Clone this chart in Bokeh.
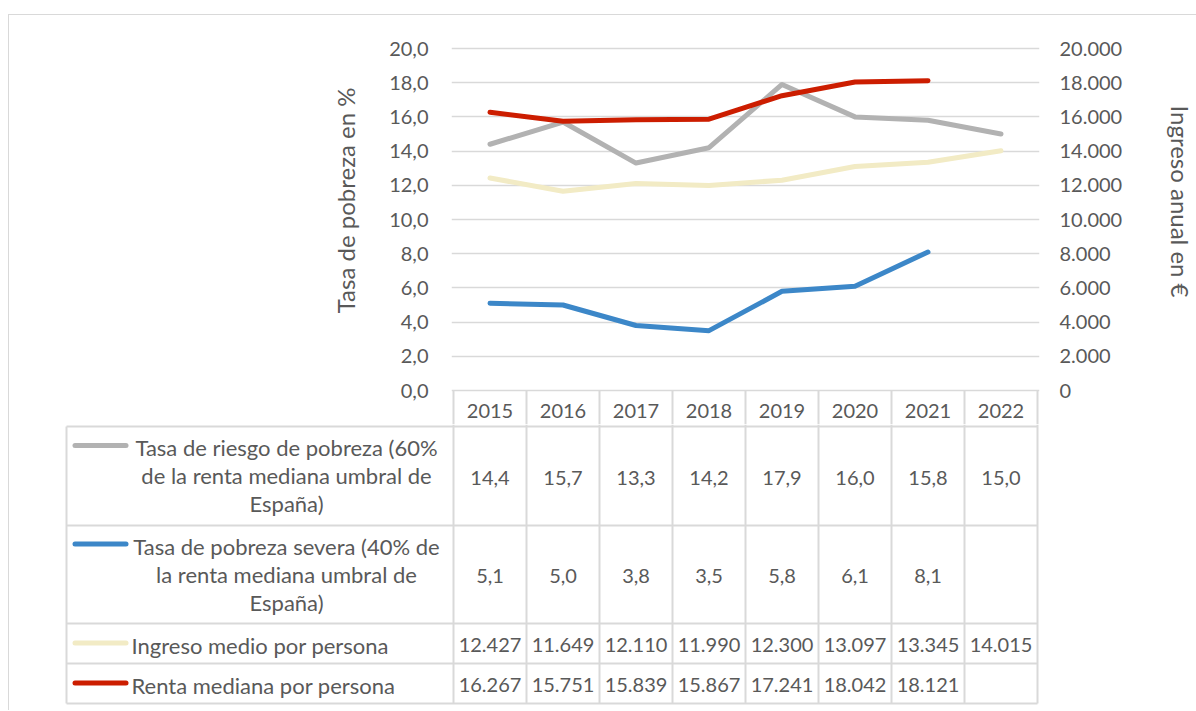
import numpy as np
from bokeh.plotting import figure
from bokeh.models import Range1d, LinearAxis, FixedTicker, CustomJSTickFormatter, Title
from bokeh.layouts import column
from bokeh.embed import file_html
from bokeh.resources import INLINE
from bokeh.core.properties import value

# ---------------- data ----------------
years = [2015, 2016, 2017, 2018, 2019, 2020, 2021, 2022]
riesgo = [14.4, 15.7, 13.3, 14.2, 17.9, 16.0, 15.8, 15.0]
severa = [5.1, 5.0, 3.8, 3.5, 5.8, 6.1, 8.1, None]
ingreso_medio = [12427, 11649, 12110, 11990, 12300, 13097, 13345, 14015]
renta_mediana = [16267, 15751, 15839, 15867, 17241, 18042, 18121, None]

series_names = [
    "Tasa de riesgo de pobreza (60%\nde la renta mediana umbral de\nEspaña)",
    "Tasa de pobreza severa (40% de\nla renta mediana umbral de\nEspaña)",
    "Ingreso medio por persona",
    "Renta mediana por persona",
]
left_ticks = [0, 2, 4, 6, 8, 10, 12, 14, 16, 18, 20]
right_ticks = [0, 2000, 4000, 6000, 8000, 10000, 12000, 14000, 16000, 18000, 20000]
left_title = "Tasa de pobreza en %"
right_title = "Ingreso anual en €"

# ---------------- styles / layout ----------------
colors = ["#B2B2B2", "#3C87C8", "#F2EBC5", "#CC1D00"]
FONT = "Lato"
TXT = "#595959"
GRID = "#D9D9D9"
FS = "20px"
FS_LEG = "22px"
FS_TITLE = "24px"
LW = 5

OUT_X, OUT_Y = 8, 14          # outer chart-area border position
PAGE_X0, PAGE_Y0 = OUT_X + 1, OUT_Y + 1
W = 1187
PLOT_L, COL_W = 453, 73
Y0_PX, Y20_PX = 390, 48
PPU = (Y0_PX - Y20_PX) / left_ticks[-1]
FRAME_L, FRAME_R, FRAME_T = 451, 1039, 46
A_BOTTOM = 424
HDR_BOTTOM = 426
HDR_TEXT_Y = 410
TABLE_L = 66
ROW_H = [99, 98, 40, 40]
LINE_SP = 28
KEY_L, KEY_R = 74.5, 125.5
TEXT_L = 131
LABEL_CX = 286
B_H = 286
LEFT_TITLE_TOP, RIGHT_TITLE_TOP = 87, 105
LEFT_TITLE_GAP = 51
RIGHT_TITLE_GAP = 36


def X(px):
    return years[0] - 0.5 + (px - PLOT_L) / COL_W


def fmt_pct(v):
    return "" if v is None else f"{v:.1f}".replace(".", ",")


def fmt_eur(v):
    return "" if v is None else f"{v:,}".replace(",", ".")


# ---------------- chart figure ----------------
y_lo = -(A_BOTTOM - Y0_PX) / PPU
y_hi = left_ticks[-1] + (Y20_PX - FRAME_T) / PPU
factor = right_ticks[-1] / left_ticks[-1]

p = figure(width=W, height=A_BOTTOM - PAGE_Y0,
           x_range=Range1d(X(FRAME_L), X(FRAME_R)),
           y_range=Range1d(y_lo, y_hi),
           x_axis_location=None, y_axis_location="left",
           toolbar_location=None, output_backend="svg",
           min_border_left=FRAME_L - PAGE_X0,
           min_border_right=PAGE_X0 + W - FRAME_R,
           min_border_top=FRAME_T - PAGE_Y0,
           min_border_bottom=0)
p.frame_align = False
p.outline_line_color = None
p.background_fill_color = "white"
p.border_fill_color = "white"
p.xgrid.visible = False
p.ygrid.ticker = FixedTicker(ticks=left_ticks)
p.ygrid.grid_line_color = GRID
p.ygrid.grid_line_width = 1.5

p.extra_y_ranges = {"right": Range1d(y_lo * factor, y_hi * factor)}
ra = LinearAxis(y_range_name="right")
p.add_layout(ra, "right")

la = p.yaxis[0]
la.ticker = FixedTicker(ticks=left_ticks)
la.formatter = CustomJSTickFormatter(code="return tick.toFixed(1).replace('.', ',');")
ra.ticker = FixedTicker(ticks=right_ticks)
ra.formatter = CustomJSTickFormatter(code="""
const s = Math.round(tick).toString();
return s.replace(/\\B(?=(\\d{3})+(?!\\d))/g, '.');
""")
for ax, st in ((la, 23), (ra, 20)):
    ax.axis_line_color = None
    ax.major_tick_line_color = None
    ax.minor_tick_line_color = None
    ax.major_tick_out = 0
    ax.major_tick_in = 0
    ax.major_label_standoff = st
    ax.major_label_text_font = FONT
    ax.major_label_text_font_size = FS
    ax.major_label_text_color = TXT

# axis titles as side titles (allows shifting along the axis like the original)
lt_title = Title(text=left_title, align="right", offset=LEFT_TITLE_TOP - FRAME_T,
                 vertical_align="middle", text_font=FONT, text_font_size=FS_TITLE,
                 text_font_style="normal", text_color=TXT, standoff=LEFT_TITLE_GAP)
p.add_layout(lt_title, "left")
gap = Title(text=" ", text_font_size="1px", standoff=RIGHT_TITLE_GAP)
p.add_layout(gap, "right")
rt_title = Title(text=right_title, align="left", offset=RIGHT_TITLE_TOP - FRAME_T,
                 vertical_align="middle", text_font=FONT, text_font_size=FS_TITLE,
                 text_font_style="normal", text_color=TXT, standoff=0)
p.add_layout(rt_title, "right")

xs = np.array(years, dtype=float)
p.line(xs, np.array(riesgo, dtype=float), line_color=colors[0], line_width=LW,
       line_cap="round", line_join="round")
p.line(xs, np.array(severa, dtype=float), line_color=colors[1], line_width=LW,
       line_cap="round", line_join="round")
p.line(xs, np.array(ingreso_medio, dtype=float), y_range_name="right", line_color=colors[2],
       line_width=LW, line_cap="round", line_join="round")
p.line(xs, np.array(renta_mediana, dtype=float), y_range_name="right", line_color=colors[3],
       line_width=LW, line_cap="round", line_join="round")

# header row (years) inside the chart frame, below zero
edges = [years[0] - 0.5 + i for i in range(len(years) + 1)]
p.segment(x0=edges, y0=[0] * len(edges), x1=edges, y1=[y_lo] * len(edges),
          line_color=GRID, line_width=2)
p.text(x=years, y=[-(HDR_TEXT_Y - Y0_PX) / PPU] * len(years), text=[str(y) for y in years],
       text_font=value(FONT), text_font_size=FS, text_color=TXT,
       text_align="center", text_baseline="middle")

# ---------------- table figure ----------------
b_off = HDR_BOTTOM - A_BOTTOM
t = figure(width=W, height=B_H,
           x_range=Range1d(X(PAGE_X0), X(PAGE_X0 + W)),
           y_range=Range1d(B_H - b_off, -b_off),
           x_axis_location=None, y_axis_location=None,
           toolbar_location=None, output_backend="svg",
           min_border_left=0, min_border_right=0, min_border_top=0, min_border_bottom=0)
t.frame_align = False
t.outline_line_color = None
t.xgrid.visible = False
t.ygrid.visible = False
t.background_fill_color = "white"
t.border_fill_color = "white"

row_tops = [0]
for h in ROW_H:
    row_tops.append(row_tops[-1] + h)
t.segment(x0=[X(TABLE_L)] * len(row_tops), y0=row_tops, x1=[edges[-1]] * len(row_tops), y1=row_tops,
          line_color=GRID, line_width=2)
vx = [X(TABLE_L)] + edges
t.segment(x0=vx, y0=[0] + [-b_off] * len(edges), x1=vx, y1=[row_tops[-1]] * len(vx),
          line_color=GRID, line_width=2)

all_series = [riesgo, severa, ingreso_medio, renta_mediana]
fmts = [fmt_pct, fmt_pct, fmt_eur, fmt_eur]
vx_, vy_, vt_ = [], [], []
lx, ly, lt, la_ = [], [], [], []
kx0, kx1, ky, kc = [], [], [], []
for r, (vals, f, name) in enumerate(zip(all_series, fmts, series_names)):
    cy = row_tops[r] + ROW_H[r] / 2
    for yr, v in zip(years, vals):
        vx_.append(yr); vy_.append(cy + 1.5); vt_.append(f(v))
    lines = name.split("\n")
    n = len(lines)
    for i, ln in enumerate(lines):
        lt.append(ln)
        if n > 1:
            ly.append(cy - 0.5 + (i - (n - 1) / 2) * LINE_SP)
            lx.append(X(LABEL_CX)); la_.append("center")
        else:
            ly.append(cy + 1.5)
            lx.append(X(TEXT_L)); la_.append("left")
    kx0.append(X(KEY_L)); kx1.append(X(KEY_R))
    ky.append(cy - (n - 1) / 2 * LINE_SP - (2.5 if n > 1 else 0.5))
    kc.append(colors[r])

t.text(x=vx_, y=vy_, text=vt_, text_font=value(FONT), text_font_size=FS, text_color=TXT,
       text_align="center", text_baseline="middle")
t.text(x=lx, y=ly, text=lt, text_align=la_, text_font=value(FONT), text_font_size=FS_LEG,
       text_color=TXT, text_baseline="middle")
t.segment(x0=kx0, y0=ky, x1=kx1, y1=ky, line_color=kc, line_width=LW, line_cap="round")

layout = column(p, t, styles={"border-top": f"1px solid {GRID}",
                              "border-left": f"1px solid {GRID}",
                              "margin-top": f"{OUT_Y}px",
                              "margin-left": f"{OUT_X}px"})

open("out.html", "w").write(file_html(layout, INLINE))
